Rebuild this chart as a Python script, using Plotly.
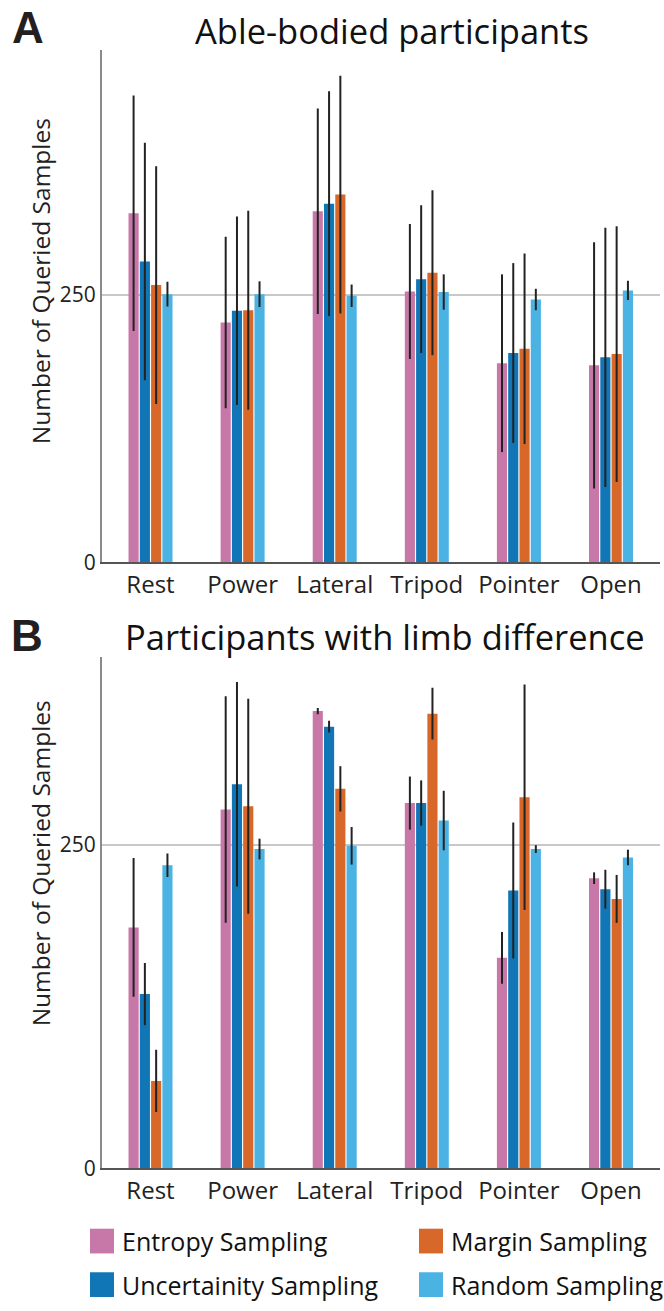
import plotly.graph_objects as go
from plotly.subplots import make_subplots

categories = ["Rest", "Power", "Lateral", "Tripod", "Pointer", "Open"]
series_names = ["Entropy Sampling", "Uncertainity Sampling", "Margin Sampling", "Random Sampling"]
colors = ["#C878A8", "#1176B6", "#D8672A", "#4AB3E4"]

# Panel A: able-bodied participants (mean, error)
entropy_A = [326, 224, 328, 253, 186, 184]
entropy_A_err = [110, 80, 96, 63, 83, 115]
uncert_A = [281, 235, 335, 264.5, 195.5, 191.5]
uncert_A_err = [111, 88, 105, 69, 84, 121]
margin_A = [259, 235.5, 343.5, 270.5, 199.5, 194.5]
margin_A_err = [111, 93, 111, 77, 89, 119.5]
random_A = [250.5, 250.5, 249, 252.5, 245.5, 254]
random_A_err = [11.5, 12, 10.5, 16.5, 10, 9]

# Panel B: participants with limb difference
entropy_B = [186, 277, 353, 282, 162.5, 224]
entropy_B_err = [53.5, 87.5, 2.5, 20.5, 20, 4.5]
uncert_B = [134.5, 296.5, 341, 282, 214.5, 215.5]
uncert_B_err = [24, 79, 4.5, 17.5, 52.5, 15]
margin_B = [67.5, 279.5, 293, 351, 286.5, 208]
margin_B_err = [24, 83, 17.5, 20, 87, 18.5]
random_B = [234, 246.5, 249, 268.5, 246.5, 240]
random_B_err = [9, 8, 14.5, 23, 3, 6]

y_ticks = [0, 250]

W, H = 664, 1311
FONT = "Open Sans, Noto Sans, sans-serif"
NARROW = "Liberation Sans Narrow, Arial Narrow, sans-serif"


def px(x):
    return x / W


def py(y):
    return 1 - y / H


fig = make_subplots(rows=2, cols=1)

panel_A = [(entropy_A, entropy_A_err), (uncert_A, uncert_A_err), (margin_A, margin_A_err), (random_A, random_A_err)]
panel_B = [(entropy_B, entropy_B_err), (uncert_B, uncert_B_err), (margin_B, margin_B_err), (random_B, random_B_err)]

for row, panel in ((1, panel_A), (2, panel_B)):
    for i, (vals, errs) in enumerate(panel):
        fig.add_trace(
            go.Bar(
                x=categories, y=vals, name=series_names[i],
                marker=dict(color=colors[i], line=dict(width=0)),
                error_y=dict(type="data", array=errs, symmetric=True,
                             color="#222222", thickness=2, width=0),
                showlegend=False,
            ),
            row=row, col=1,
        )

fig.update_layout(
    width=W, height=H,
    margin=dict(l=0, r=0, t=0, b=0),
    paper_bgcolor="white", plot_bgcolor="white",
    barmode="group", bargap=0.51, bargroupgap=0.1,
    font=dict(family=FONT, color="#222222"),
)

fig.update_xaxes(domain=[px(101.7), px(660)], range=[-0.53, 5.532], showline=True, linecolor="#555555",
                 linewidth=2, ticks="", showgrid=False, tickfont=dict(size=24, color="#222222"))
fig.update_yaxes(showline=True, linecolor="#8a8a8a", linewidth=1.5, ticks="",
                 tickvals=y_ticks, ticktext=[str(v) for v in y_ticks], showgrid=True,
                 gridcolor="#c8c8c8", gridwidth=1.5, zeroline=False,
                 tickfont=dict(size=21, color="#222222"))
fig.update_yaxes(domain=[py(568), py(50)], range=[0, 479], row=1, col=1)
fig.update_yaxes(domain=[py(1180), py(663.3)], range=[0, 395], row=2, col=1)

ann = []


def add_text(text, x, y, size, family=FONT, color="#111111", xanchor="center", angle=0):
    ann.append(dict(text=text, x=px(x), y=py(y), xref="paper", yref="paper", showarrow=False,
                    xanchor=xanchor, yanchor="middle", textangle=angle,
                    font=dict(family=family, size=size, color=color)))


# panel letters
add_text("<b>A</b>", 28, 28, 44, family=NARROW, color="#231f20")
add_text("<b>B</b>", 27, 642, 44, family=NARROW, color="#231f20")
# titles
add_text("Able-bodied participants", 392, 31, 34.5)
add_text("Participants with limb difference", 385, 643, 34.5)
# y titles
for yc in (284, 872):
    add_text("Number of Queried Samples", 40, yc, 24.5, color="#222222", angle=-90)

# legend (manual key)
shapes = []
legend_pos = [(90, 1253.5), (90, 1297.5), (419, 1253.5), (419, 1297.5)]
for i, (lx, ly) in enumerate(legend_pos):
    shapes.append(dict(type="rect", xref="paper", yref="paper",
                       x0=px(lx), x1=px(lx + 24), y0=py(ly + 12.5), y1=py(ly - 12.5),
                       fillcolor=colors[i], line=dict(width=0)))
    add_text(series_names[i], lx + 30, ly, 25, xanchor="left")

fig.update_layout(annotations=ann, shapes=shapes)
fig.write_html(
    "out.html",
    config={"displayModeBar": False},
    post_script="document.documentElement.style.overflow='hidden';"
                "document.body.style.margin='0';document.body.style.overflow='hidden';",
)
